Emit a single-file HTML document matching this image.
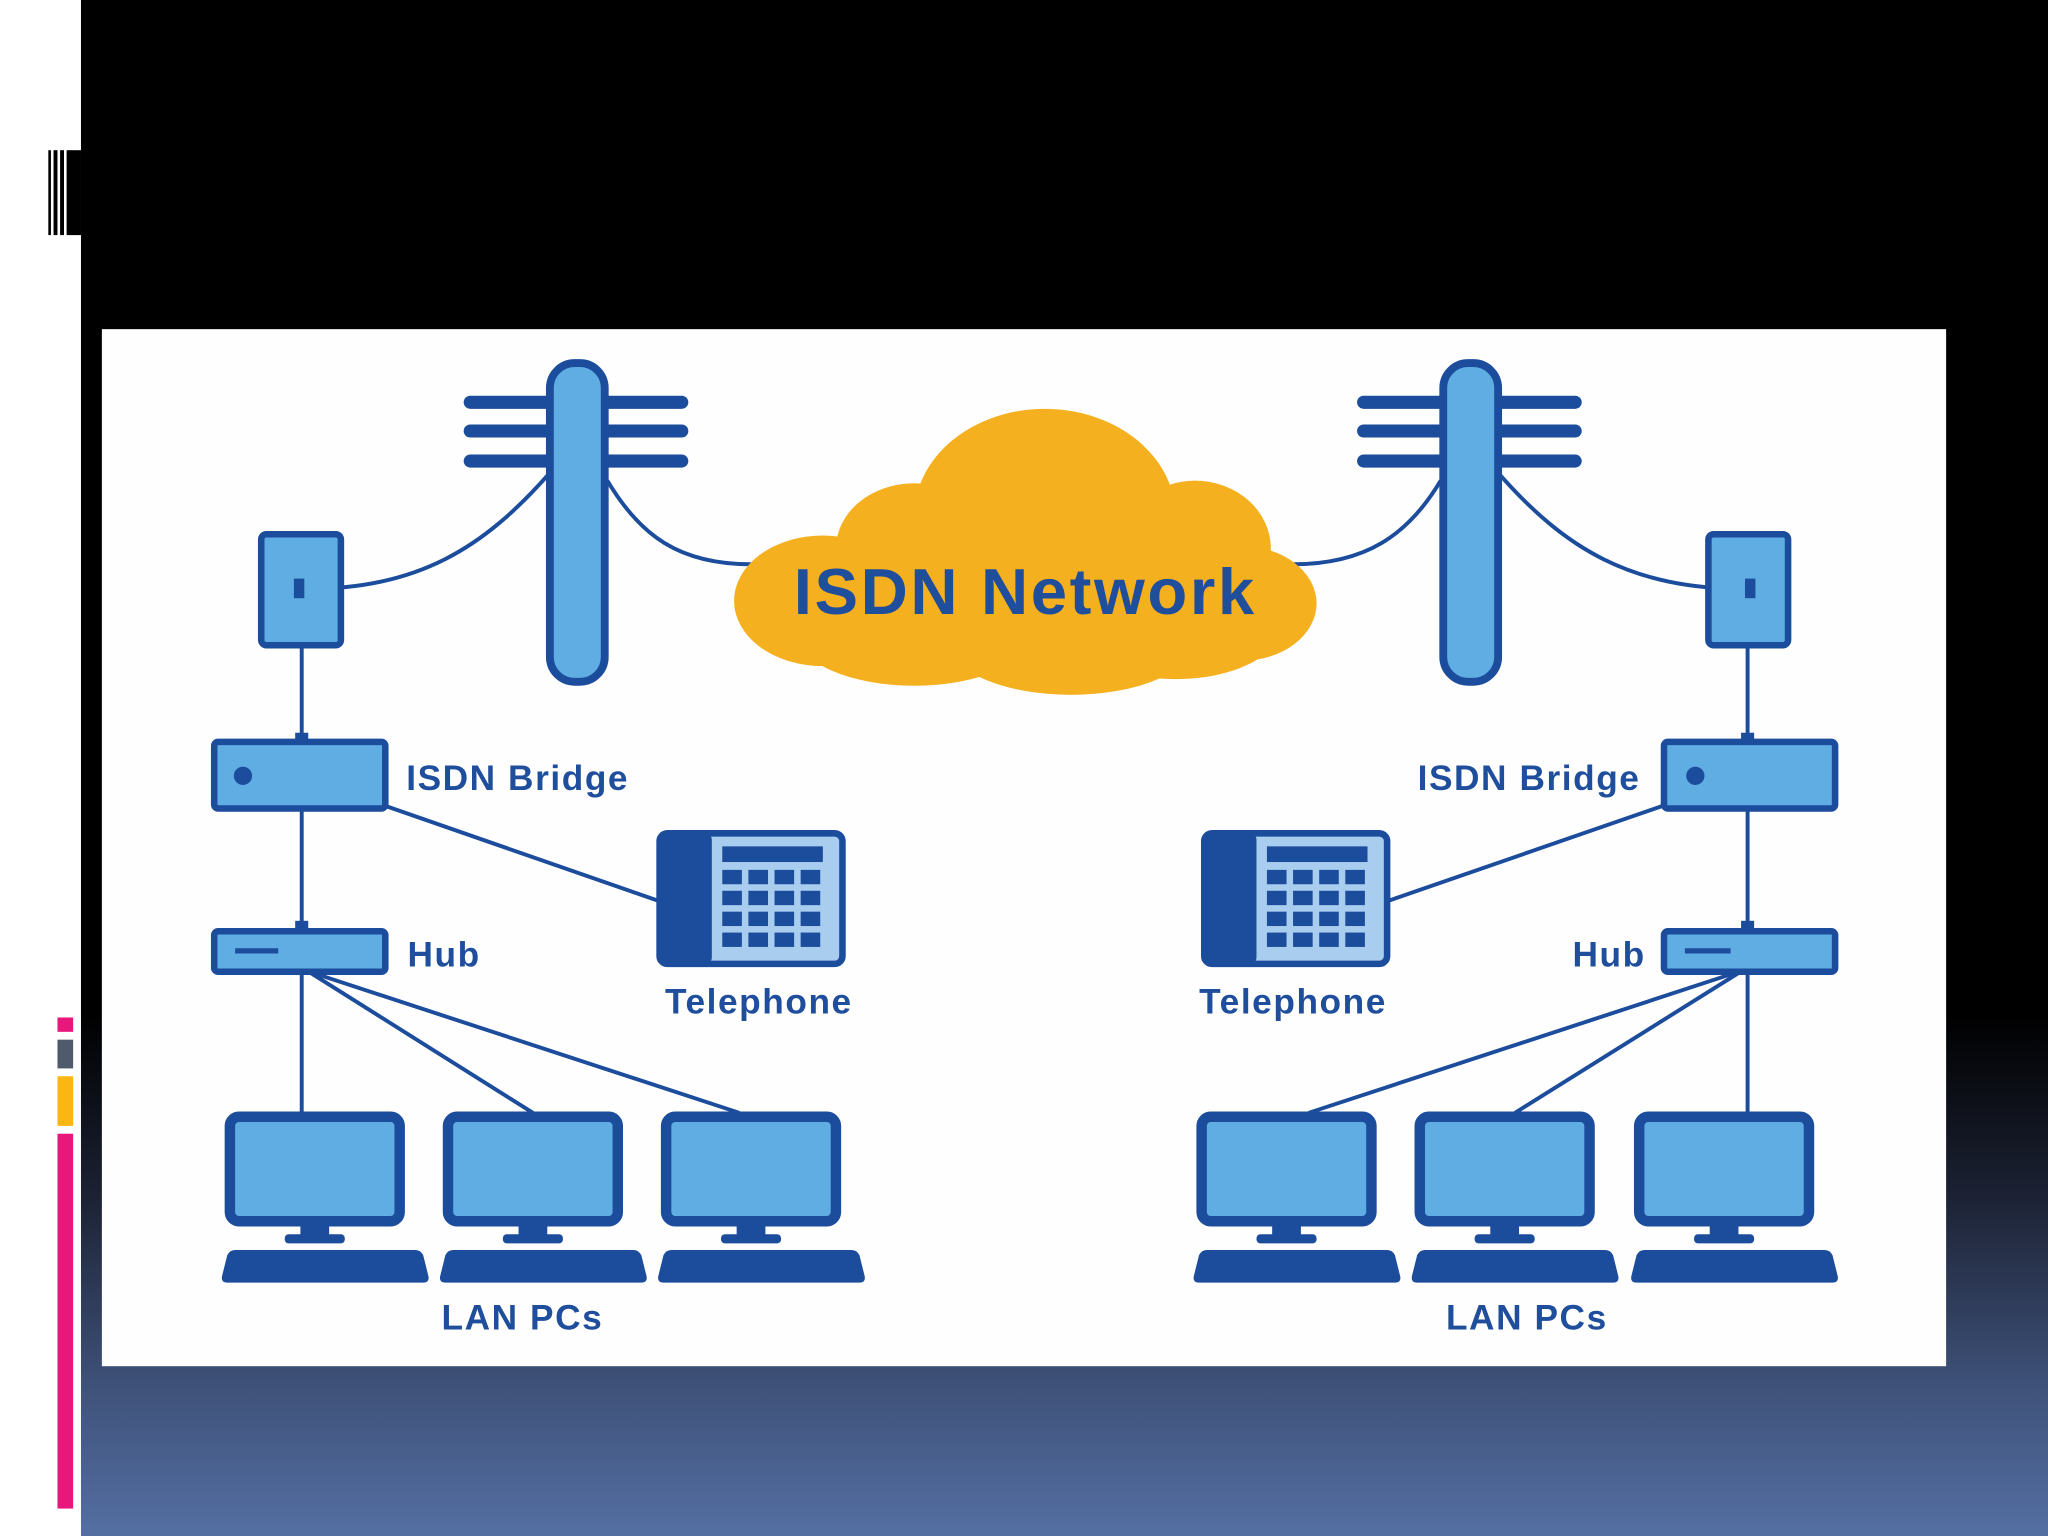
<!DOCTYPE html>
<html><head><meta charset="utf-8"><style>
html,body{margin:0;padding:0;width:2048px;height:1536px;overflow:hidden;background:#fff}
svg{display:block}
text{font-family:"Liberation Sans",sans-serif;font-weight:bold;fill:#1f4e9c}
</style></head><body>
<svg width="2048" height="1536" viewBox="0 0 1568 1176" xmlns="http://www.w3.org/2000/svg">
<defs>
<linearGradient id="bg" x1="0" y1="0" x2="0" y2="1">
<stop offset="0" stop-color="#000"/>
<stop offset="0.66" stop-color="#000"/>
<stop offset="0.78" stop-color="#1c2234"/>
<stop offset="0.9" stop-color="#3e5178"/>
<stop offset="1" stop-color="#546fa3"/>
</linearGradient>
<g id="pc">
<rect x="4" y="4" width="130" height="80" rx="7" fill="#5fade3" stroke="#1c4c9c" stroke-width="8"/>
<rect x="58" y="84" width="22" height="12" fill="#1c4c9c"/>
<rect x="46" y="94" width="46" height="7" rx="3" fill="#1c4c9c"/>
<path d="M8 106 H146 Q150 106 152 110 L156 126 Q157 131 152 131 H2 Q-3 131 -2 126 L2 110 Q4 106 8 106Z" fill="#1c4c9c"/>
</g>
<g id="phone">
<rect x="2" y="2" width="140" height="100" rx="6" fill="#a9cdee" stroke="#1c4c9c" stroke-width="5"/>
<rect x="2" y="2" width="40" height="100" rx="5" fill="#1c4c9c"/>
<rect x="50" y="12" width="77" height="12" fill="#1c4c9c"/>
<g fill="#1c4c9c">
<rect x="50" y="30" width="15" height="11"/><rect x="70" y="30" width="15" height="11"/><rect x="90" y="30" width="15" height="11"/><rect x="110" y="30" width="15" height="11"/>
<rect x="50" y="46" width="15" height="11"/><rect x="70" y="46" width="15" height="11"/><rect x="90" y="46" width="15" height="11"/><rect x="110" y="46" width="15" height="11"/>
<rect x="50" y="62" width="15" height="11"/><rect x="70" y="62" width="15" height="11"/><rect x="90" y="62" width="15" height="11"/><rect x="110" y="62" width="15" height="11"/>
<rect x="50" y="78" width="15" height="11"/><rect x="70" y="78" width="15" height="11"/><rect x="90" y="78" width="15" height="11"/><rect x="110" y="78" width="15" height="11"/>
</g>
</g>
<g id="pole">
<g stroke="#1c4c9c" stroke-width="10" stroke-linecap="round">
<line x1="0" y1="32" x2="162" y2="32"/><line x1="0" y1="54" x2="162" y2="54"/><line x1="0" y1="77" x2="162" y2="77"/>
</g>
<rect x="61" y="2" width="42" height="244" rx="19" fill="#5fade3" stroke="#1c4c9c" stroke-width="6"/>
</g>
</defs>
<rect x="0" y="0" width="1568" height="1176" fill="#fff"/>
<rect x="62" y="0" width="1506" height="1176" fill="url(#bg)"/>
<g fill="#000"><rect x="37" y="115" width="2" height="65"/><rect x="41" y="115" width="3" height="65"/><rect x="46" y="115" width="3" height="65"/><rect x="51" y="115" width="11" height="65"/></g>
<rect x="44" y="779" width="12" height="11" fill="#e8177c"/>
<rect x="44" y="796" width="12" height="22" fill="#4f5a6c"/>
<rect x="44" y="824" width="12" height="38" fill="#fbb614"/>
<rect x="44" y="868" width="12" height="287" fill="#e8177c"/>
<rect x="78" y="252" width="1412" height="794" fill="#fefefe"/>
<g fill="none" stroke="#1c4c9c" stroke-width="3">
<path d="M233 451 C320 451 370 420 421 362"/>
<path d="M465 368 C490 410 520 432 575 432"/>
<path d="M990 432 C1045 432 1078 410 1103 368"/>
<path d="M1147 362 C1198 420 1248 451 1338 451"/>
<line x1="231" y1="494" x2="231" y2="567"/>
<line x1="231" y1="619" x2="231" y2="712"/>
<line x1="295" y1="617" x2="505" y2="690"/>
<line x1="231" y1="745" x2="231" y2="852"/>
<line x1="238" y1="745" x2="408" y2="852"/>
<line x1="240" y1="745" x2="566" y2="852"/>
<line x1="1338" y1="494" x2="1338" y2="567"/>
<line x1="1338" y1="619" x2="1338" y2="712"/>
<line x1="1273" y1="617" x2="1062" y2="690"/>
<line x1="1338" y1="745" x2="1338" y2="852"/>
<line x1="1331" y1="745" x2="1160" y2="852"/>
<line x1="1328" y1="745" x2="1002" y2="852"/>
</g>
<use href="#pole" x="360" y="276"/>
<use href="#pole" x="1044" y="276"/>
<g fill="#f5b01f">
<ellipse cx="800" cy="395" rx="100" ry="82"/>
<ellipse cx="700" cy="420" rx="60" ry="50"/>
<ellipse cx="915" cy="420" rx="58" ry="52"/>
<ellipse cx="630" cy="460" rx="68" ry="50"/>
<ellipse cx="950" cy="462" rx="58" ry="44"/>
<ellipse cx="700" cy="485" rx="90" ry="40"/>
<ellipse cx="820" cy="490" rx="95" ry="42"/>
<ellipse cx="900" cy="480" rx="80" ry="40"/>
<rect x="610" y="430" width="350" height="70"/>
</g>
<text x="785" y="470" font-size="50" letter-spacing="2" text-anchor="middle">ISDN Network</text>
<rect x="200" y="409" width="61" height="85" rx="4" fill="#5fade3" stroke="#1c4c9c" stroke-width="5"/>
<rect x="225" y="443" width="8" height="15" fill="#1c4c9c"/>
<rect x="1308" y="409" width="61" height="85" rx="4" fill="#5fade3" stroke="#1c4c9c" stroke-width="5"/>
<rect x="1336" y="443" width="8" height="15" fill="#1c4c9c"/>
<rect x="164" y="568" width="131" height="51" rx="3" fill="#5fade3" stroke="#1c4c9c" stroke-width="5"/>
<rect x="226" y="561" width="10" height="7" fill="#1c4c9c"/>
<circle cx="186" cy="594" r="7" fill="#1c4c9c"/>
<rect x="1274" y="568" width="131" height="51" rx="3" fill="#5fade3" stroke="#1c4c9c" stroke-width="5"/>
<rect x="1333" y="561" width="10" height="7" fill="#1c4c9c"/>
<circle cx="1298" cy="594" r="7" fill="#1c4c9c"/>
<rect x="164" y="713" width="131" height="31" rx="3" fill="#5fade3" stroke="#1c4c9c" stroke-width="5"/>
<rect x="226" y="705" width="10" height="8" fill="#1c4c9c"/>
<line x1="180" y1="728" x2="213" y2="728" stroke="#1c4c9c" stroke-width="4"/>
<rect x="1274" y="713" width="131" height="31" rx="3" fill="#5fade3" stroke="#1c4c9c" stroke-width="5"/>
<rect x="1333" y="705" width="10" height="8" fill="#1c4c9c"/>
<line x1="1290" y1="728" x2="1325" y2="728" stroke="#1c4c9c" stroke-width="4"/>
<use href="#phone" x="503" y="636"/>
<use href="#phone" x="920" y="636"/>
<use href="#pc" x="172" y="851"/>
<use href="#pc" x="339" y="851"/>
<use href="#pc" x="506" y="851"/>
<use href="#pc" x="916" y="851"/>
<use href="#pc" x="1083" y="851"/>
<use href="#pc" x="1251" y="851"/>
<g font-size="27" letter-spacing="1.2">
<text x="311" y="605">ISDN Bridge</text>
<text x="1256" y="605" text-anchor="end">ISDN Bridge</text>
<text x="312" y="740">Hub</text>
<text x="1260" y="740" text-anchor="end">Hub</text>
<text x="581" y="776" text-anchor="middle">Telephone</text>
<text x="990" y="776" text-anchor="middle">Telephone</text>
<text x="400" y="1018" text-anchor="middle">LAN PCs</text>
<text x="1169" y="1018" text-anchor="middle">LAN PCs</text>
</g>
</svg>
</body></html>
